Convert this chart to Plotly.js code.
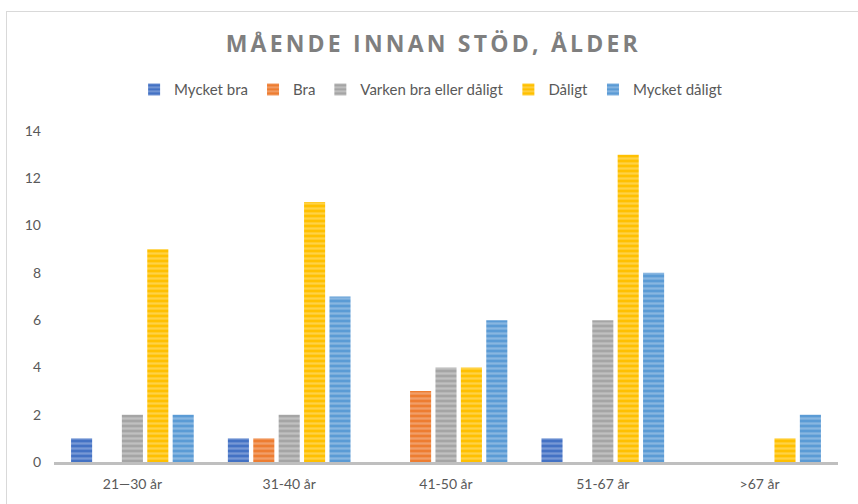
<!DOCTYPE html>
<html>
<head>
<meta charset="utf-8">
<script src="https://cdn.plot.ly/plotly-3.0.1.min.js"></script>
<style>
  html, body { margin: 0; padding: 0; background: #fff; }
  #frame { position: absolute; left: 6px; top: 11px; width: 900px; height: 520px;
           border-left: 1px solid #D9D9D9; border-top: 1px solid #D9D9D9; pointer-events: none; z-index: 5; }
  #chart { width: 858px; height: 504px; }
  .gtitle { letter-spacing: 3.2px; }
</style>
</head>
<body>
<div id="frame"></div>
<div id="chart"></div>
<script>
const categories = ["21—30 år", "31-40 år", "41-50 år", "51-67 år", ">67 år"];
const seriesNames = ["Mycket bra", "Bra", "Varken bra eller dåligt", "Dåligt", "Mycket dåligt"];
const mycketBra = [1, 1, 0, 1, 0];
const bra = [0, 1, 3, 0, 0];
const varken = [2, 2, 4, 6, 0];
const daligt = [9, 11, 4, 13, 1];
const mycketDaligt = [2, 7, 6, 8, 2];
const yTicks = [0, 2, 4, 6, 8, 10, 12, 14];

const values = [mycketBra, bra, varken, daligt, mycketDaligt];
const colors = ["#4472C4", "#ED7D31", "#A5A5A5", "#FFC000", "#5B9BD5"];
const lights = ["#A9BEE6", "#F6C0A0", "#DCDCDC", "#FFE38A", "#B5D2EE"];

const traces = values.map((v, i) => ({
  type: "bar",
  name: seriesNames[i],
  x: categories,
  y: v,
  marker: {
    color: colors[i],
    line: { width: 0 },
    pattern: { shape: "-", fgcolor: lights[i], bgcolor: colors[i], size: 5, solidity: 0.45, fillmode: "overlay" }
  },
  hoverinfo: "x+y+name"
}));

const layout = {
  width: 858, height: 504,
  margin: { l: 54, r: 20, t: 131, b: 42, pad: 0 },
  paper_bgcolor: "#FFFFFF",
  plot_bgcolor: "#FFFFFF",
  font: { family: "Lato, 'Open Sans', sans-serif", color: "#595959", size: 14 },
  title: {
    text: "<b>MÅENDE INNAN STÖD, ÅLDER</b>",
    font: { family: "'Open Sans', Lato, sans-serif", size: 23, color: "#7F7F7F" },
    x: 0.505, xanchor: "center", y: 0.912, yanchor: "middle"
  },
  barmode: "group",
  bargap: 0.19,
  bargroupgap: 0.17,
  showlegend: true,
  legend: {
    orientation: "h", x: 0.481, xanchor: "center", y: 1.125, yanchor: "middle",
    font: { size: 15, color: "#595959" }, itemwidth: 30, traceorder: "normal",
    itemclick: false
  },
  xaxis: {
    type: "category",
    showline: true, linecolor: "#BFBFBF", linewidth: 2.5,
    showgrid: false, zeroline: false, ticks: "",
    tickfont: { size: 14, color: "#595959" },
    ticklabelstandoff: 8
  },
  yaxis: {
    range: [0, 14], tickvals: yTicks,
    showline: false, showgrid: false, zeroline: false, ticks: "",
    tickfont: { size: 14, color: "#595959" },
    ticklabelstandoff: 12
  }
};

Plotly.newPlot("chart", traces, layout, { displayModeBar: false, staticPlot: true });
</script>
</body>
</html>
